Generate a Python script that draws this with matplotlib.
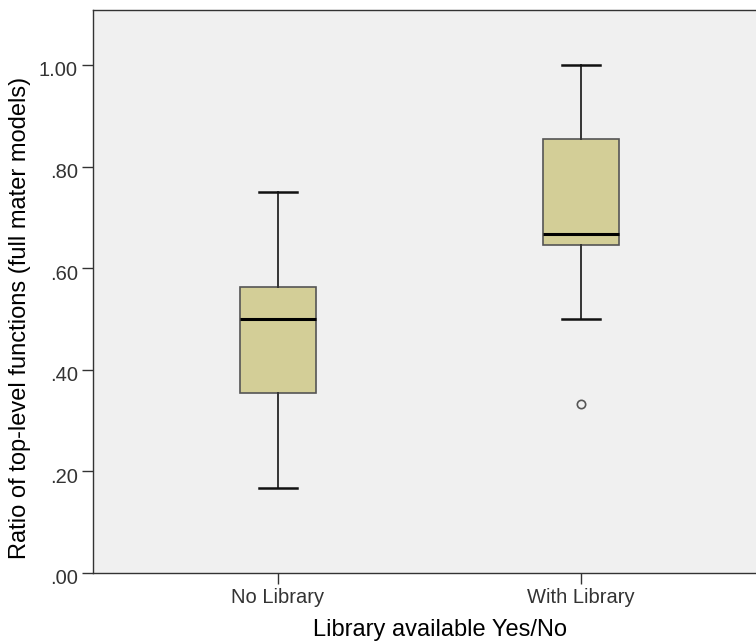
import matplotlib
matplotlib.use("Agg")
import matplotlib.pyplot as plt
import matplotlib.transforms as mtransforms

categories = ["No Library", "With Library"]
whislo = [0.167, 0.500]
q1 = [0.354, 0.646]
med = [0.500, 0.667]
q3 = [0.562, 0.854]
whishi = [0.750, 1.000]
fliers = [[], [0.333]]
yticks = [0.0, 0.2, 0.4, 0.6, 0.8, 1.0]
ytick_labels = [".00", ".20", ".40", ".60", ".80", "1.00"]

plt.rcParams['font.family'] = ['Liberation Sans', 'DejaVu Sans']

fig = plt.figure(figsize=(7.56, 6.41), dpi=100)
ax = fig.add_axes([93/756, 68/641, 1 - 93/756, 563/641])
ax.set_facecolor('#F0F0F0')

stats = []
for i, c in enumerate(categories):
    stats.append(dict(label=c, whislo=whislo[i], q1=q1[i], med=med[i],
                      q3=q3[i], whishi=whishi[i], fliers=fliers[i]))

ax.bxp(stats, positions=[1, 2], widths=0.25, patch_artist=True,
       boxprops=dict(facecolor='#D3CE97', edgecolor='#555555', linewidth=1.2),
       medianprops=dict(color='black', linewidth=2.2),
       whiskerprops=dict(color='#333333', linewidth=1.4),
       capprops=dict(color='#111111', linewidth=1.8),
       capwidths=0.125,
       flierprops=dict(marker='o', markerfacecolor='none', markeredgecolor='#555555',
                       markersize=6, markeredgewidth=1.2))

ax.set_xlim(0.389, 2.578)
ax.set_ylim(0, 1.108)
ax.set_yticks(yticks)
ax.set_yticklabels(ytick_labels)
ax.set_xticks([1, 2])
ax.set_xticklabels(categories)
ax.tick_params(axis='both', direction='out', length=8, width=1, colors='#333333',
               labelsize=14.5, labelcolor='#333333')
ax.tick_params(axis='y', pad=3)
ax.tick_params(axis='x', pad=3)
offset = mtransforms.ScaledTranslation(0, -4/100, fig.dpi_scale_trans)
for lbl in ax.get_yticklabels():
    lbl.set_transform(lbl.get_transform() + offset)
for s in ['left', 'top', 'bottom']:
    ax.spines[s].set_color('#333333')
    ax.spines[s].set_linewidth(1.0)
ax.spines['right'].set_visible(False)

ax.set_xlabel("Library available Yes/No", fontsize=17)
ax.set_ylabel("Ratio of top-level functions (full mater models)", fontsize=17)
ax.xaxis.set_label_coords(0.523, -0.082)
ax.yaxis.set_label_coords(-0.0935, 0.453)

fig.savefig("out.png", dpi=100)
